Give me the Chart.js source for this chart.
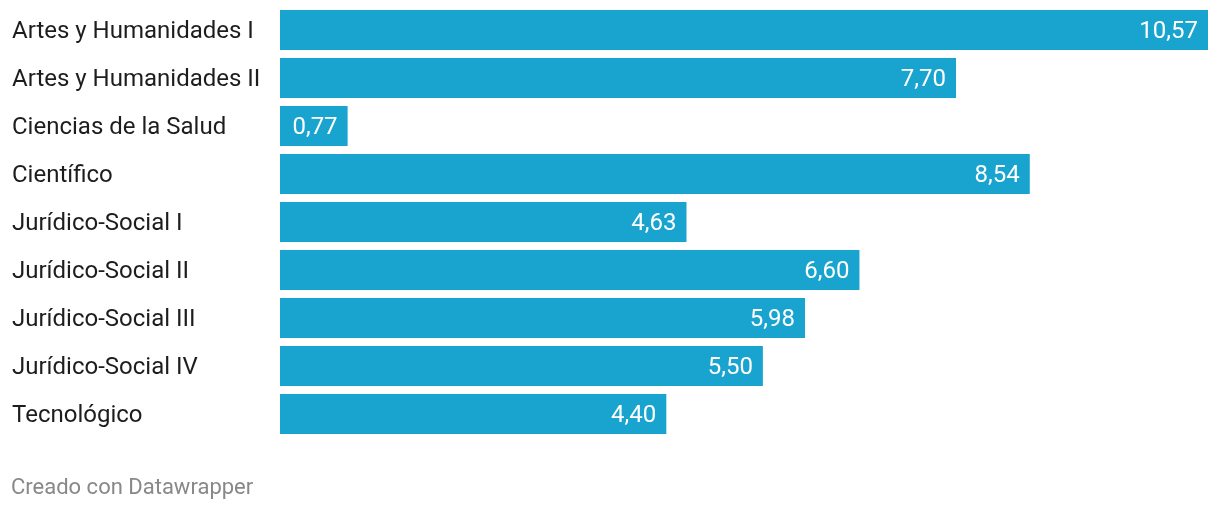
<!DOCTYPE html>
<html>
<head>
<meta charset="utf-8">
<script src="https://cdn.jsdelivr.net/npm/chart.js@4"></script>
<style>
  body { margin: 0; background: #fff; }
  #wrap { position: relative; width: 1220px; height: 510px; }
  #footer {
    position: absolute; left: 11px; top: 474px;
    font-family: Roboto, sans-serif; font-size: 22px; color: #888;
    line-height: 26px;
  }
</style>
</head>
<body>
<div id="wrap">
  <canvas id="chart" width="1220" height="510"></canvas>
  <div id="footer">Creado con Datawrapper</div>
</div>
<script>
  const categories = [
    "Artes y Humanidades I",
    "Artes y Humanidades II",
    "Ciencias de la Salud",
    "Científico",
    "Jurídico-Social I",
    "Jurídico-Social II",
    "Jurídico-Social III",
    "Jurídico-Social IV",
    "Tecnológico"
  ];
  const values = [10.57, 7.70, 0.77, 8.54, 4.63, 6.60, 5.98, 5.50, 4.40];

  const barColor = "#19a3cf";

  // value labels inside the bar end, like Datawrapper
  const valueLabels = {
    id: "valueLabels",
    afterDatasetsDraw(chart) {
      const ctx = chart.ctx;
      const meta = chart.getDatasetMeta(0);
      ctx.save();
      ctx.font = "24px Roboto, sans-serif";
      ctx.fillStyle = "#fff";
      ctx.textAlign = "right";
      ctx.textBaseline = "middle";
      meta.data.forEach((bar, i) => {
        const txt = values[i].toFixed(2).replace(".", ",");
        ctx.fillText(txt, bar.x - 10, bar.y + 2);
      });
      ctx.restore();
    }
  };

  new Chart(document.getElementById("chart"), {
    type: "bar",
    data: {
      labels: categories,
      datasets: [{
        data: values,
        backgroundColor: barColor,
        barPercentage: 40 / 48,
        categoryPercentage: 1
      }]
    },
    options: {
      indexAxis: "y",
      responsive: false,
      animation: false,
      layout: { padding: { left: 12, right: 12, top: 6, bottom: 72 } },
      plugins: {
        legend: { display: false },
        tooltip: { enabled: false }
      },
      scales: {
        x: {
          display: false,
          min: 0,
          max: 10.57
        },
        y: {
          grid: { display: false },
          border: { display: false },
          ticks: {
            crossAlign: "far",
            labelOffset: 2,
            color: "#1d1d1d",
            font: { family: "Roboto", size: 24 }
          },
          afterFit(scale) {
            scale.width = 268;
            scale.paddingTop = 0;
            scale.paddingBottom = 0;
          }
        }
      }
    },
    plugins: [valueLabels]
  });
</script>
</body>
</html>
